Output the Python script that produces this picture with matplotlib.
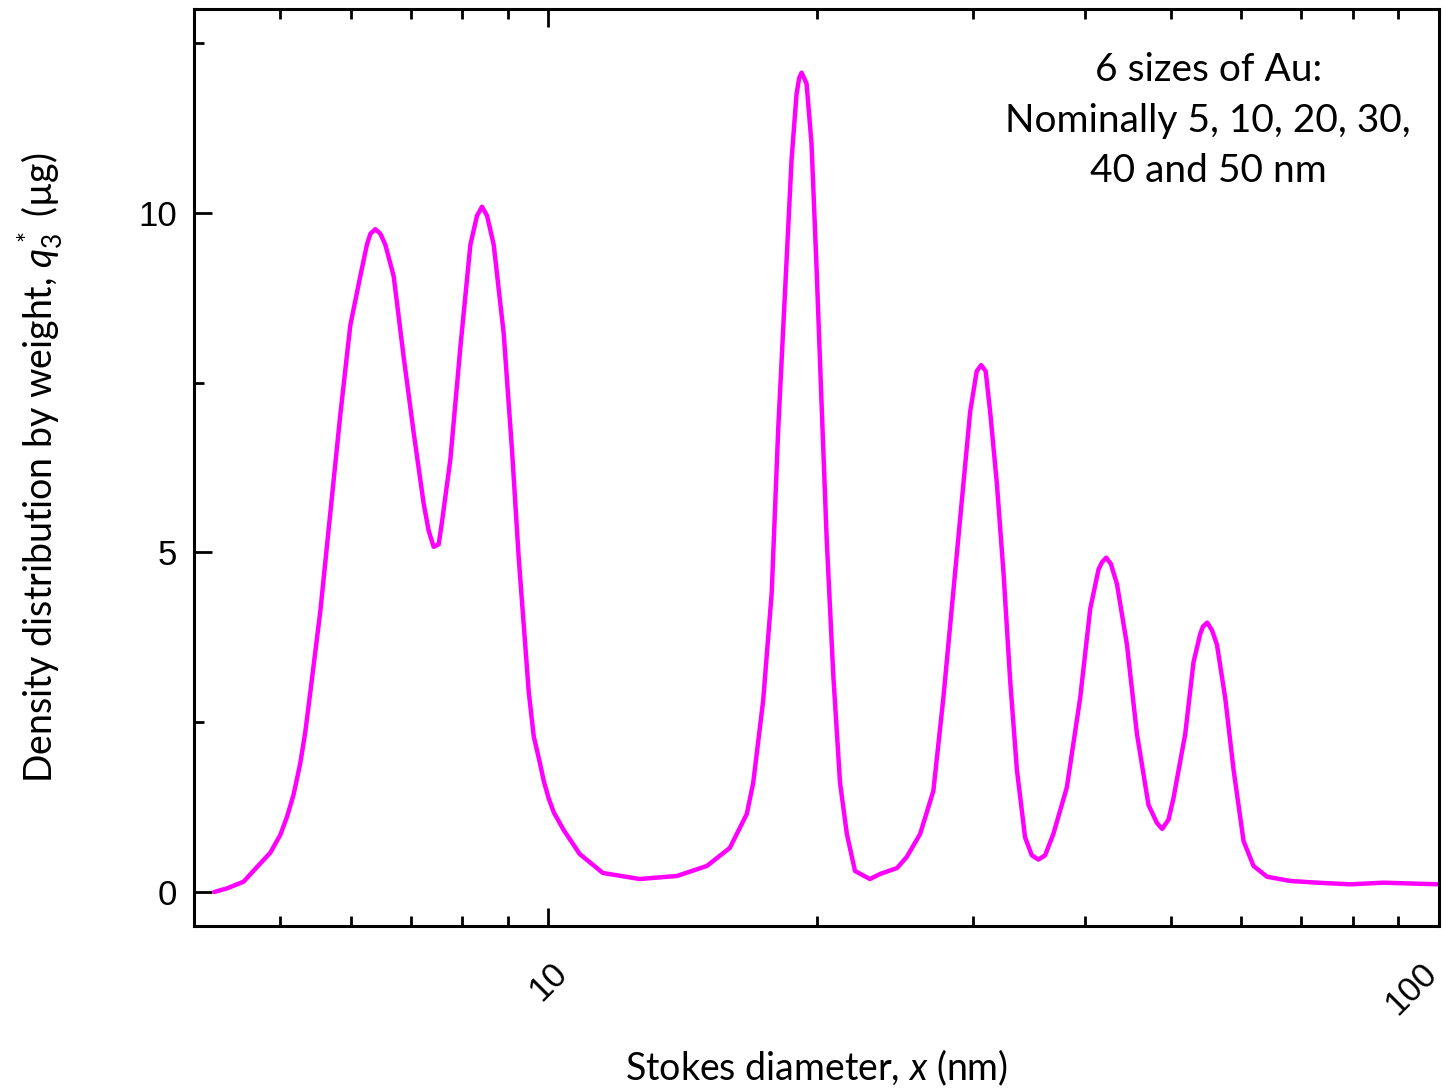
"""Density distribution by weight for a mix of six Au nanoparticle sizes."""

import matplotlib.pyplot as plt
from matplotlib.ticker import FixedLocator, LogLocator, NullFormatter
from matplotlib.transforms import ScaledTranslation

# Stokes diameter (nm) and weight density q3* (ug)
diameter_nm = [
    4.215, 4.355, 4.547, 4.667, 4.872, 5.000, 5.086, 5.174, 5.265, 5.333,
    5.403, 5.544, 5.690, 5.838, 5.991, 6.148, 6.254, 6.310, 6.392, 6.475,
    6.559, 6.702, 6.877, 7.058, 7.243, 7.337, 7.432, 7.529, 7.594, 7.761,
    7.964, 8.172, 8.314, 8.421, 8.532, 8.680, 8.908, 9.100, 9.260, 9.422,
    9.503, 9.627, 9.770, 9.879, 10.01, 10.14, 10.40, 10.84, 11.51, 12.66,
    13.94, 15.06, 15.98, 16.70, 16.98, 17.42, 17.81, 18.11, 18.43, 18.75,
    18.99, 19.12, 19.24, 19.37, 19.49, 19.74, 20.00, 20.26, 20.53, 20.88,
    21.25, 21.63, 22.09, 22.96, 23.57, 24.63, 25.25, 26.14, 27.05, 27.76,
    28.49, 29.11, 29.75, 30.26, 30.61, 30.97, 31.33, 31.88, 32.43, 32.99,
    33.57, 34.29, 34.89, 35.49, 36.11, 36.89, 38.20, 39.54, 40.58, 41.46,
    41.83, 42.29, 42.81, 43.48, 44.62, 45.79, 47.18, 48.22, 48.88, 49.69,
    50.33, 51.88, 53.00, 53.93, 54.31, 54.91, 55.59, 56.31, 57.53, 58.78,
    60.32, 61.90, 64.09, 68.07, 72.94, 79.50, 86.59, 94.47, 99.9,
]
q3_ug = [
    0.000, 0.053, 0.152, 0.315, 0.579, 0.842, 1.105, 1.434, 1.900, 2.356,
    2.946, 4.131, 5.582, 7.025, 8.342, 9.066, 9.529, 9.690, 9.757, 9.690,
    9.529, 9.066, 7.879, 6.760, 5.714, 5.317, 5.081, 5.118, 5.449, 6.377,
    8.026, 9.529, 9.956, 10.088, 9.956, 9.529, 8.218, 6.510, 4.919, 3.608,
    2.946, 2.290, 1.929, 1.635, 1.370, 1.171, 0.913, 0.560, 0.280, 0.191,
    0.236, 0.383, 0.648, 1.149, 1.611, 2.813, 4.404, 6.797, 8.792, 10.785,
    11.742, 11.980, 12.062, 11.980, 11.900, 11.025, 9.190, 7.196, 5.199, 3.211,
    1.611, 0.854, 0.309, 0.191, 0.265, 0.353, 0.515, 0.854, 1.487, 2.857,
    4.433, 5.748, 7.069, 7.667, 7.757, 7.667, 7.069, 6.009, 4.698, 3.122,
    1.803, 0.804, 0.540, 0.477, 0.540, 0.854, 1.540, 2.857, 4.168, 4.748,
    4.854, 4.922, 4.828, 4.536, 3.644, 2.327, 1.281, 1.016, 0.928, 1.066,
    1.384, 2.327, 3.381, 3.800, 3.907, 3.966, 3.854, 3.644, 2.857, 1.803,
    0.751, 0.383, 0.225, 0.162, 0.137, 0.113, 0.137, 0.122, 0.113,
]

x_major = [10, 100]
y_major = [0, 5, 10]
y_minor = [2.5, 7.5, 12.5]
note = "6 sizes of Au:\nNominally 5, 10, 20, 30,\n40 and 50 nm"

plt.rcParams["mathtext.fontset"] = "custom"
plt.rcParams["mathtext.rm"] = "Lato"
plt.rcParams["mathtext.it"] = "Lato:italic"

fig = plt.figure(figsize=(14.46, 10.9), dpi=100)
ax = fig.add_axes([0.1342, 0.1505, 0.861, 0.8413])

ax.plot(diameter_nm, q3_ug, color="#ff00ff", linewidth=3.2,
        solid_joinstyle="round", solid_capstyle="round")

ax.set_xscale("log")
ax.set_xlim(4, 100)
ax.set_ylim(-0.5, 13)

ax.xaxis.set_major_locator(FixedLocator(x_major))
ax.xaxis.set_minor_locator(LogLocator(base=10, subs=range(2, 10)))
ax.xaxis.set_minor_formatter(NullFormatter())
ax.set_xticklabels([str(v) for v in x_major], rotation=45, ha="center",
                   va="top", fontfamily="Liberation Sans", fontsize=25)
ax.yaxis.set_major_locator(FixedLocator(y_major))
ax.yaxis.set_minor_locator(FixedLocator(y_minor))
ax.set_yticklabels([str(v) for v in y_major],
                   fontfamily="Liberation Sans", fontsize=25)

for spine in ax.spines.values():
    spine.set_linewidth(2.2)
ax.tick_params(which="both", direction="in", top=True, right=False,
               width=2.0, color="black")
ax.tick_params(which="major", length=13)
ax.tick_params(which="minor", length=7)
ax.tick_params(axis="y", which="major", pad=12)
ax.tick_params(axis="x", which="major", pad=22)

# the last label sits at the frame edge, nudge it inwards
last = ax.get_xticklabels()[-1]
last.set_transform(last.get_transform()
                   + ScaledTranslation(-28 / 100, 0, fig.dpi_scale_trans))

ax.set_xlabel("Stokes diameter, $x$ (nm)", fontfamily="Lato", fontsize=27)
ax.xaxis.set_label_coords(0.5, -0.133)
ax.set_ylabel("Density distribution by weight, $q_3^*$ (µg)",
              fontfamily="Lato", fontsize=27)
ax.yaxis.set_label_coords(-0.104, 0.5)

ax.text(0.8145, 0.953, note, transform=ax.transAxes, ha="center", va="top",
        multialignment="center", fontfamily="Lato", fontsize=28,
        linespacing=1.5)

fig.savefig("out.png", dpi=100)
